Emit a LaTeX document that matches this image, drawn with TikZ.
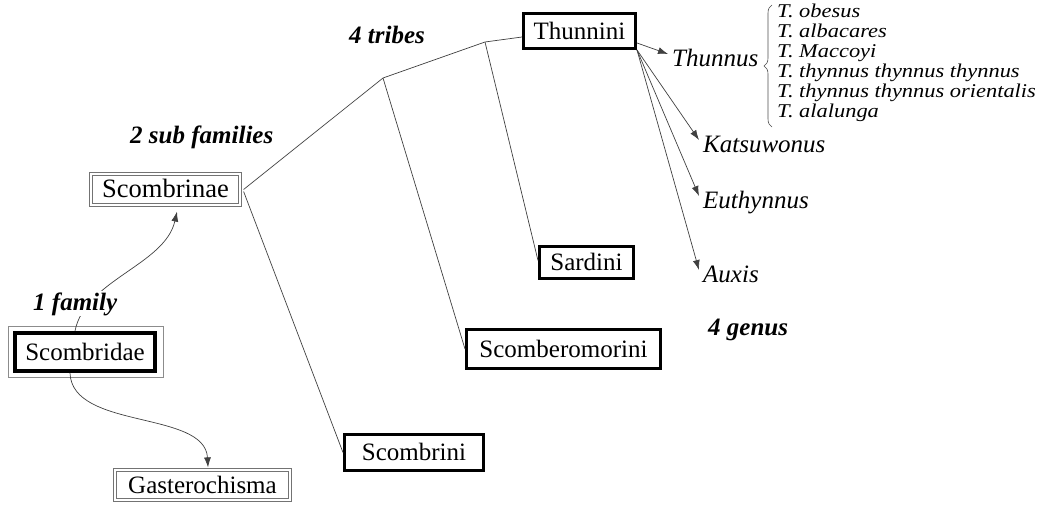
\documentclass[tikz,border=0pt]{standalone}
\usepackage{fontspec}
\setmainfont{Liberation Serif}
\newfontfamily\spfont[FakeStretch=1.15]{Liberation Serif}
\usetikzlibrary{arrows.meta,decorations.pathreplacing}

\begin{document}
\begin{tikzpicture}[x=1pt,y=-1pt,
  boxtext/.style={font=\fontsize{25}{28}\selectfont, text height=16.5pt, text depth=0pt, inner sep=0pt, align=center},
  thickbox/.style={boxtext, draw=black, line width=3pt},
  dblbox/.style={boxtext, draw=black!55, line width=0.8pt, double=white, double distance=2pt},
  conn/.style={draw=black!75, line width=0.7pt},
  arr/.style={conn, -{Latex[length=10pt,width=7pt]}},
  genus/.style={font=\fontsize{25}{28}\selectfont\itshape, text height=24pt, text depth=0pt, inner xsep=4pt, inner ysep=0pt, anchor=base west},
  rank/.style={font=\fontsize{25}{28}\selectfont\bfseries\itshape, inner sep=0pt, anchor=base west},
  species/.style={font=\fontsize{19.5}{20}\spfont\itshape, inner sep=0pt, anchor=base west}
]
\useasboundingbox (0,0) rectangle (1038,506);

% boxes
\node[dblbox, minimum width=149.4pt, minimum height=31.4pt, font=\fontsize{26.5}{28}\selectfont] (sbn) at (165.5,189.5) {Scombrinae};
\node[boxtext, draw=black, line width=4pt, minimum width=140pt, minimum height=38pt] (sbd) at (85,352) {Scombridae};
\draw[black!45, line width=0.8pt] ([shift={(-4.5pt,4.5pt)}]sbd.north west) rectangle ([shift={(6.5pt,-4.5pt)}]sbd.south east);
\node[dblbox, minimum width=175.4pt, minimum height=30.4pt] (gas) at (202.5,485) {Gasterochisma};
\node[thickbox, minimum width=112pt, minimum height=35pt] (thun) at (579.5,31) {Thunnini};
\node[thickbox, minimum width=94pt, minimum height=32pt] (sar) at (586.5,262.5) {Sardini};
\node[thickbox, minimum width=194pt, minimum height=39pt] (scm) at (563.5,349) {Scomberomorini};
\node[thickbox, minimum width=139pt, minimum height=36pt] (scb) at (414,452.5) {Scombrini};

% genus names
\node[genus] (thn) at (668,66) {Thunnus};
\node[genus] (kat) at (699,152) {Katsuwonus};
\node[genus] (eut) at (699,208) {Euthynnus};
\node[genus] (aux) at (699,282) {Auxis};

% species
\node[species] (sp1) at (777,17.5) {T. obesus};
\node[species] (sp2) at (777,37.5) {T. albacares};
\node[species] (sp3) at (777,57.5) {T. Maccoyi};
\node[species] (sp4) at (777,77.5) {T. thynnus thynnus thynnus};
\node[species] (sp5) at (777,97.5) {T. thynnus thynnus orientalis};
\node[species] (sp6) at (777,117.5) {T. alalunga};
\draw[black!70, line width=0.6pt, decorate, decoration={brace, amplitude=8pt}] (772,127) -- (772,5);

% junctions
\coordinate (j1) at (383,78);
\coordinate (j2) at (485,42);

% tree lines
\draw[conn] ([xshift=3pt]sbn.east) -- (j1) -- (j2) -- ([yshift=-6pt]thun.west);
\draw[conn] (j1) -- (scm.west);
\draw[conn] (j2) -- ([yshift=2pt]sar.west);
\draw[conn] ([shift={(3pt,-2pt)}]sbn.east) -- (scb.west);

% arrows to genera
\draw[arr] ([yshift=-12pt]thun.east) -- (thn.west);
\draw[arr] (thun.south east) -- (kat.west);
\draw[arr] (thun.south east) -- (eut.west);
\draw[arr] (thun.south east) -- (aux.west);

% curved arrows
\draw[arr] ([xshift=-10pt]sbd.north) .. controls (85,280) and (165,265) .. ([shift={(11.5pt,-6pt)}]sbn.south);
\draw[arr] ([xshift=-15pt]sbd.south) .. controls (72,430) and (205,410) .. ([shift={(5.5pt,2pt)}]gas.north);

% rank labels
\node[rank, fill=white, inner sep=1pt] (l1) at (32,310) {1 family};
\node[rank] (l2) at (130,143) {2 sub families};
\node[rank] (l3) at (349,43) {4 tribes};
\node[rank] (l4) at (708,335) {4 genus};
\end{tikzpicture}
\end{document}
